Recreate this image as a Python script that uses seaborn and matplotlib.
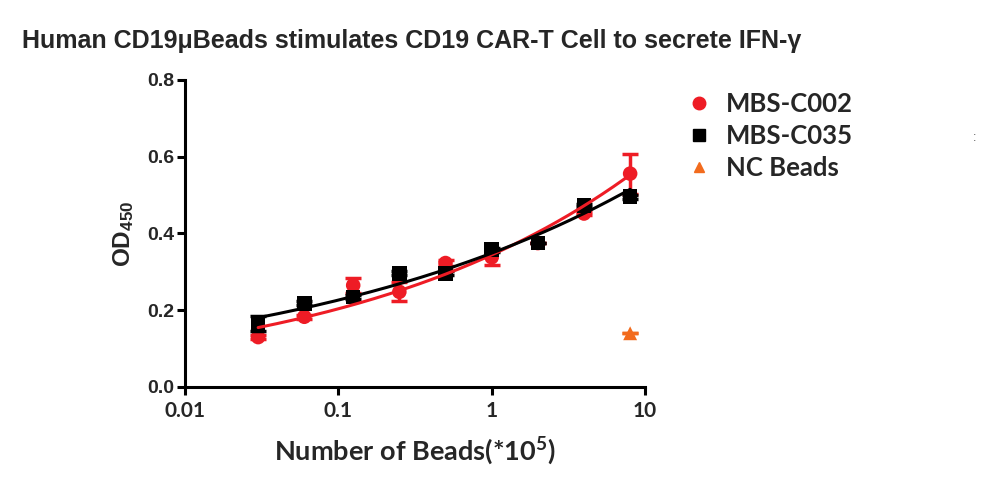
import matplotlib
matplotlib.use("Agg")
import matplotlib.pyplot as plt
import matplotlib.ticker as mticker
from matplotlib.lines import Line2D
import numpy as np
import pandas as pd
import seaborn as sns

# data
beads = [0.03, 0.06, 0.125, 0.25, 0.5, 1, 2, 4, 8]
c002_mean = [0.13, 0.183, 0.265, 0.248, 0.323, 0.338, 0.375, 0.452, 0.556]
c002_sd = [0.005, 0.005, 0.02, 0.025, 0.008, 0.02, 0.0, 0.005, 0.052]
c035_mean = [0.165, 0.218, 0.235, 0.296, 0.296, 0.358, 0.375, 0.473, 0.496]
c035_sd = [0.02, 0.005, 0.005, 0.005, 0.005, 0.005, 0.0, 0.005, 0.005]
nc_beads = [8]
nc_mean = [0.14]

RED = "#ee1c25"
BLACK = "#000000"
ORANGE = "#f26b1d"

sns.set_style("white")
plt.rcParams["font.family"] = ["Liberation Sans", "DejaVu Sans"]
plt.rcParams["mathtext.default"] = "regular"

pts = pd.concat([
    pd.DataFrame({"x": beads, "y": c002_mean, "sd": c002_sd, "grp": "MBS-C002"}),
    pd.DataFrame({"x": beads, "y": c035_mean, "sd": c035_sd, "grp": "MBS-C035"}),
    pd.DataFrame({"x": nc_beads, "y": nc_mean, "sd": 0.0, "grp": "NC Beads"}),
])

# power-law fit curves (straight in log-log), from the data
xs = np.geomspace(beads[0], beads[-1], 200)
fits = []
for name, ys in [("MBS-C002", c002_mean), ("MBS-C035", c035_mean)]:
    b, a = np.polyfit(np.log(beads), np.log(ys), 1)
    fits.append(pd.DataFrame({"x": xs, "y": np.exp(a) * xs ** b, "grp": name}))
fits = pd.concat(fits)

fig = plt.figure(figsize=(10, 4.94), dpi=100)
ax = fig.add_axes([0.185, 0.2166, 0.46, 0.6215])

colors = {"MBS-C002": RED, "MBS-C035": BLACK, "NC Beads": ORANGE}
markers = {"MBS-C002": "o", "MBS-C035": "s", "NC Beads": "^"}
sizes = {"MBS-C002": 110, "MBS-C035": 110, "NC Beads": 100}
zs = {"MBS-C002": 2, "MBS-C035": 3, "NC Beads": 3}

for name, d in pts.groupby("grp"):
    ax.errorbar(d["x"], d["y"], yerr=d["sd"], fmt="none", ecolor=colors[name],
                elinewidth=2.5, capsize=6, capthick=2.5, zorder=zs[name])
    sns.scatterplot(data=d, x="x", y="y", color=colors[name], marker=markers[name],
                    s=sizes[name], edgecolor="none", ax=ax, zorder=zs[name], legend=False)

sns.lineplot(data=fits, x="x", y="y", hue="grp", palette=colors, linewidth=2.2,
             ax=ax, legend=False, zorder=4)

ax.set_xscale("log")
ax.set_xlim(0.01, 10)
ax.set_ylim(0, 0.8)
ax.xaxis.set_major_locator(mticker.FixedLocator([0.01, 0.1, 1, 10]))
ax.xaxis.set_major_formatter(mticker.FixedFormatter(["0.01", "0.1", "1", "10"]))
ax.xaxis.set_minor_locator(mticker.NullLocator())
ax.set_yticks([0, 0.2, 0.4, 0.6, 0.8])
ax.yaxis.set_major_formatter(mticker.FormatStrFormatter("%.1f"))

for s in ["top", "right"]:
    ax.spines[s].set_visible(False)
for s in ["left", "bottom"]:
    ax.spines[s].set_linewidth(2.2)
    ax.spines[s].set_color("black")
ax.tick_params(axis="both", direction="out", length=6, width=2.2, color="black",
               left=True, bottom=True)
ax.tick_params(axis="y", labelsize=14, pad=2)
ax.tick_params(axis="x", labelsize=15, pad=4)
for lab in ax.get_yticklabels():
    lab.set_fontweight("bold")
for lab in ax.get_xticklabels():
    lab.set_fontweight("bold")
    lab.set_family(["Lato", "DejaVu Sans"])
for lab in ax.get_xticklabels() + ax.get_yticklabels():
    lab.set_clip_on(False)

ax.set_xlabel("Number of Beads(*10$^{5}$)", fontsize=19.5, fontweight="bold",
              family=["Lato", "DejaVu Sans"], labelpad=10)
ax.set_ylabel("OD$_{450}$", fontsize=17.5, fontweight="bold", labelpad=8)

fig.text(0.022, 0.918, "Human CD19\u03bcBeads stimulates CD19 CAR-T Cell to secrete IFN-\u03b3",
         fontsize=18, fontweight="bold", ha="left", va="center")

handles = [Line2D([], [], linestyle="none", marker=markers[k], color=colors[k],
                  markersize=9 if k != "NC Beads" else 7) for k in colors]
leg = fig.legend(handles, list(colors), loc="upper left", bbox_to_anchor=(0.663, 0.86),
                 frameon=False, handlelength=1.0, handletextpad=0.55, labelspacing=0.3,
                 prop={"family": ["Lato", "DejaVu Sans"], "weight": "bold", "size": 18.5})

fig.text(0.975, 0.72, ":", fontsize=9, color="#555555", ha="center", va="center")

fig.savefig("out.png", dpi=100)
